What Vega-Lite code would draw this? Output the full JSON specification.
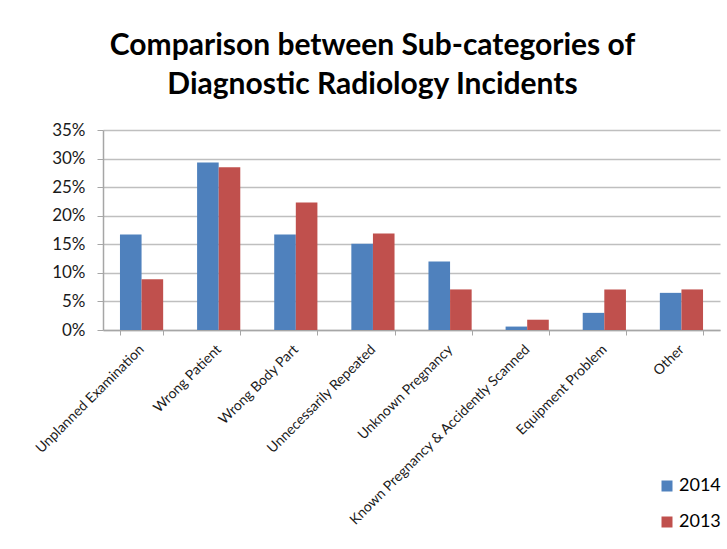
{
  "$schema": "https://vega.github.io/schema/vega-lite/v6.json",
  "width": 617,
  "height": 200,
  "autosize": {"type": "none"},
  "padding": {"left": 103, "top": 130, "right": 7, "bottom": 219},
  "background": "white",
  "title": {
    "text": ["Comparison between Sub-categories of", "Diagnostic Radiology Incidents"],
    "font": "Lato",
    "fontSize": 30,
    "fontWeight": "bold",
    "color": "#000000",
    "anchor": "middle",
    "frame": "group",
    "dx": -39,
    "offset": 21,
    "lineHeight": 39
  },
  "data": {
    "values": [
      {"category": "Unplanned Examination", "year": "2014", "pct": 0.167},
      {"category": "Unplanned Examination", "year": "2013", "pct": 0.089},
      {"category": "Wrong Patient", "year": "2014", "pct": 0.293},
      {"category": "Wrong Patient", "year": "2013", "pct": 0.285},
      {"category": "Wrong Body Part", "year": "2014", "pct": 0.167},
      {"category": "Wrong Body Part", "year": "2013", "pct": 0.223},
      {"category": "Unnecessarily Repeated", "year": "2014", "pct": 0.151},
      {"category": "Unnecessarily Repeated", "year": "2013", "pct": 0.169},
      {"category": "Unknown Pregnancy", "year": "2014", "pct": 0.12},
      {"category": "Unknown Pregnancy", "year": "2013", "pct": 0.071},
      {"category": "Known Pregnancy & Accidently Scanned", "year": "2014", "pct": 0.006},
      {"category": "Known Pregnancy & Accidently Scanned", "year": "2013", "pct": 0.018},
      {"category": "Equipment Problem", "year": "2014", "pct": 0.03},
      {"category": "Equipment Problem", "year": "2013", "pct": 0.071},
      {"category": "Other", "year": "2014", "pct": 0.065},
      {"category": "Other", "year": "2013", "pct": 0.071}
    ]
  },
  "mark": {"type": "bar", "stroke": null},
  "encoding": {
    "x": {
      "field": "category",
      "type": "nominal",
      "sort": null,
      "scale": {"paddingInner": 0.44, "paddingOuter": 0.22},
      "axis": {
        "title": null,
        "labelAngle": -45,
        "labelAlign": "right",
        "labelBaseline": "middle",
        "labelFont": "Lato",
        "labelFontSize": 14,
        "labelColor": "#1a1a1a",
        "labelPadding": 12,
        "labelLimit": 400,
        "tickBand": "extent",
        "tickColor": "#A6A6A6",
        "tickSize": 5,
        "domainColor": "#A6A6A6",
        "domainWidth": 1.5,
        "grid": false
      }
    },
    "xOffset": {"field": "year", "type": "nominal", "sort": ["2014", "2013"]},
    "y": {
      "field": "pct",
      "type": "quantitative",
      "scale": {"domain": [0, 0.35], "nice": false},
      "axis": {
        "title": null,
        "format": ".0%",
        "values": [0, 0.05, 0.1, 0.15, 0.2, 0.25, 0.3, 0.35],
        "labelFont": "Lato",
        "labelFontSize": 17,
        "labelColor": "#1a1a1a",
        "labelPadding": 12,
        "tickColor": "#A6A6A6",
        "tickSize": 6,
        "domainColor": "#A6A6A6",
        "domainWidth": 1.5,
        "gridColor": "#BFBFBF",
        "gridWidth": 1.5
      }
    },
    "color": {
      "field": "year",
      "type": "nominal",
      "sort": ["2014", "2013"],
      "scale": {"domain": ["2014", "2013"], "range": ["#4F81BD", "#C0504D"]},
      "legend": {
        "title": null,
        "orient": "none",
        "legendX": 555,
        "legendY": 347,
        "symbolType": "square",
        "symbolSize": 121,
        "symbolStrokeWidth": 0,
        "labelFont": "Lato",
        "labelFontSize": 18,
        "labelColor": "#000000",
        "rowPadding": 18,
        "labelOffset": 3
      }
    }
  },
  "config": {"view": {"stroke": null}}
}
